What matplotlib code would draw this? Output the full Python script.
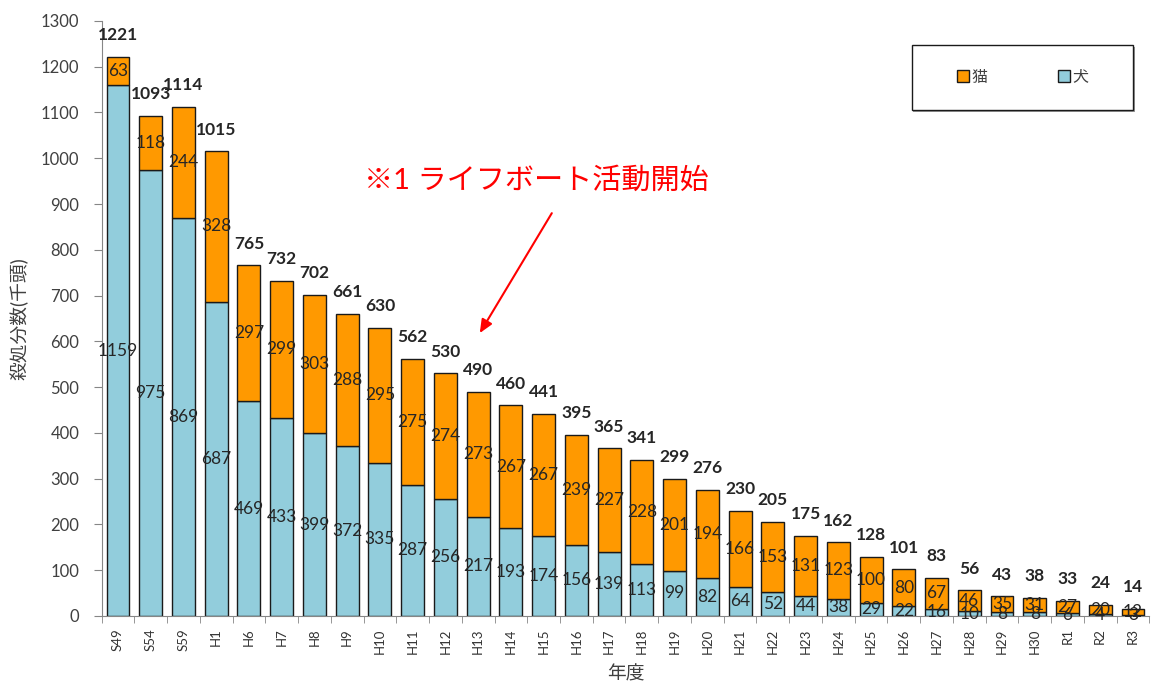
import matplotlib
matplotlib.use("Agg")
import matplotlib.pyplot as plt
import matplotlib.patches as mpatches
import matplotlib.transforms as mtransforms
import numpy as np

plt.rcParams["font.family"] = ["Lato", "Noto Sans CJK JP", "DejaVu Sans"]

years = ["S49", "S54", "S59", "H1", "H6", "H7", "H8", "H9", "H10", "H11", "H12",
         "H13", "H14", "H15", "H16", "H17", "H18", "H19", "H20", "H21", "H22",
         "H23", "H24", "H25", "H26", "H27", "H28", "H29", "H30", "R1", "R2", "R3"]
dogs = [1159, 975, 869, 687, 469, 433, 399, 372, 335, 287, 256, 217, 193, 174,
        156, 139, 113, 99, 82, 64, 52, 44, 38, 29, 22, 16, 10, 8, 8, 6, 4, 3]
cats = [63, 118, 244, 328, 297, 299, 303, 288, 295, 275, 274, 273, 267, 267,
        239, 227, 228, 201, 194, 166, 153, 131, 123, 100, 80, 67, 46, 35, 31, 27, 20, 12]
totals = [1221, 1093, 1114, 1015, 765, 732, 702, 661, 630, 562, 530, 490, 460,
          441, 395, 365, 341, 299, 276, 230, 205, 175, 162, 128, 101, 83, 56, 43,
          38, 33, 24, 14]

DOG = "#92CDDC"
CAT = "#FF9900"
TXT = "#262626"
GRAY = "#868686"

fig = plt.figure(figsize=(11.52, 6.95), dpi=100)
ax = fig.add_axes([0.0882, 0.1137, 0.9095, 0.8562])

x = np.arange(len(years))
w = 0.7
b_dog = ax.bar(x, dogs, w, color=DOG, edgecolor="#1a1a1a", linewidth=1.0, label="犬")
b_cat = ax.bar(x, cats, w, bottom=dogs, color=CAT, edgecolor="#1a1a1a", linewidth=1.0, label="猫")

for xi, d, c, t in zip(x, dogs, cats, totals):
    ax.text(xi, d / 2, str(d), ha="center", va="center", fontsize=12.5, color=TXT)
    ax.text(xi, d + c / 2, str(c), ha="center", va="center", fontsize=12.5, color=TXT)
    ax.text(xi, d + c + 30, str(t), ha="center", va="bottom", fontsize=12.5,
            fontweight="bold", color=TXT)

ax.set_xlim(-0.5, len(years) - 0.5)
ax.set_ylim(0, 1300)
ax.set_yticks(range(0, 1301, 100))
ax.set_xticks(x)
ax.set_xticklabels(years, rotation=90, fontsize=9.5, color="#333333")
ax.set_xticks(np.arange(-0.5, len(years), 1), minor=True)
ax.tick_params(axis="x", which="major", length=0, pad=9)
ax.tick_params(axis="x", which="minor", length=5, color=GRAY, direction="out")
ax.tick_params(axis="y", length=6, color=GRAY, labelsize=12, labelcolor="#404040", pad=10)

for s in ["top", "right"]:
    ax.spines[s].set_visible(False)
for s in ["left", "bottom"]:
    ax.spines[s].set_color(GRAY)

ax.set_ylabel("殺処分数(千頭)", fontsize=13.5, color="#404040")
ax.yaxis.set_label_coords(-0.07, 0.5)
ax.set_xlabel("年度", fontsize=13.5, color="#404040", labelpad=8)

# legend box drawn as a rectangle with a grey shadow, legend centred inside
bx0, bx1, by0, by1 = 0.7734, 0.9844, 0.8504, 0.960
shadow_tr = mtransforms.offset_copy(ax.transAxes, fig=fig, x=1.5, y=-2.5, units="dots")
ax.add_patch(mpatches.Rectangle((bx0, by0), bx1 - bx0, by1 - by0, transform=shadow_tr,
                                facecolor="#9a9a9a", edgecolor="none", zorder=4))
ax.add_patch(mpatches.Rectangle((bx0, by0), bx1 - bx0, by1 - by0, transform=ax.transAxes,
                                facecolor="white", edgecolor="#1a1a1a", linewidth=1.0, zorder=5))
leg = ax.legend(handles=[b_cat, b_dog], loc="center",
                bbox_to_anchor=((bx0 + bx1) / 2, (by0 + by1) / 2),
                ncol=2, fontsize=11.5, handlelength=0.75, handleheight=0.75,
                handletextpad=0.15, columnspacing=4.4, frameon=False)
leg.set_zorder(6)
for t in leg.get_texts():
    t.set_color("#404040")

ax.text(12.79, 952, "※1 ライフボート活動開始", fontsize=21, color="#FF0000",
        ha="center", va="center")
ax.annotate("", xy=(11.05, 618), xytext=(13.25, 880),
            arrowprops=dict(arrowstyle="-|>,head_length=0.8,head_width=0.35",
                            color="#FF0000", lw=1.5, shrinkA=0, shrinkB=0))

fig.savefig("out.png", dpi=100)
